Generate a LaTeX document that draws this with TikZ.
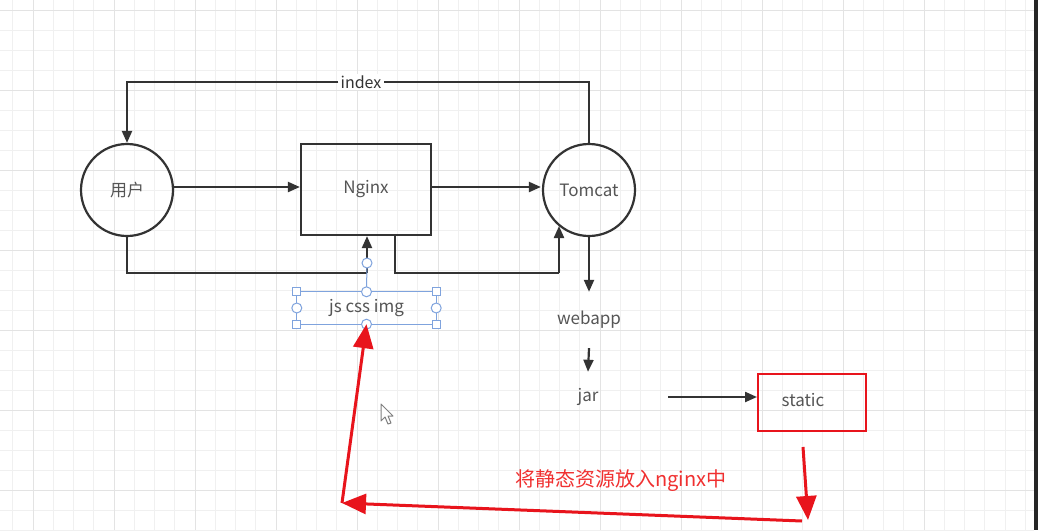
\documentclass[tikz,border=0pt]{standalone}
\usepackage{fontspec}
\setmainfont{Noto Sans CJK SC}
\usetikzlibrary{arrows.meta,calc}
\definecolor{gridminor}{HTML}{F0F0F0}
\definecolor{gridmajor}{HTML}{E3E3E3}
\definecolor{ink}{HTML}{333333}
\definecolor{txt}{HTML}{555555}
\definecolor{redline}{HTML}{E8141C}
\definecolor{redtxt}{HTML}{F03030}
\definecolor{selblue}{HTML}{7FA3DD}
\tikzset{
  conn/.style={draw=ink,line width=2.2pt,-{Triangle[length=12pt,width=10pt]}},
  plain/.style={draw=ink,line width=2.2pt},
  redarrow/.style={draw=redline,line width=3pt,-{Triangle[length=24pt,width=20pt]}},
  circnode/.style={circle,draw=ink,line width=2.2pt,minimum size=92pt,inner sep=0pt,text=txt,font=\fontsize{17}{19}\selectfont},
  boxnode/.style={rectangle,draw=ink,line width=2.2pt,minimum width=130pt,minimum height=91pt,text=txt,font=\fontsize{17}{19}\selectfont},
  plaintext/.style={text=txt,font=\fontsize{17}{19}\selectfont,inner sep=0pt},
  handlesq/.style={rectangle,draw=selblue,fill=white,line width=1pt,minimum size=8pt,inner sep=0pt},
  handlec/.style={circle,draw=selblue,fill=white,line width=1pt,minimum size=10pt,inner sep=0pt}
}
\begin{document}
\begin{tikzpicture}[x=1pt,y=-1pt]
\useasboundingbox (0,0) rectangle (1038,530);
\fill[white] (0,0) rectangle (1038,530);
% grid
\foreach \k in {0,...,50} {
  \pgfmathsetmacro{\gx}{12.75+20.25*\k}
  \ifdim\gx pt<1034pt
    \draw[gridminor,line width=1pt] (\gx,0) -- (\gx,530);
  \fi
}
\foreach \k in {0,...,26} {
  \draw[gridminor,line width=1pt] (0,{10+20*\k}) -- (1034,{10+20*\k});
}
\foreach \k in {0,...,11} {
  \pgfmathsetmacro{\gx}{33+81*\k}
  \draw[gridmajor,line width=1pt] (\gx,0) -- (\gx,530);
}
\foreach \k in {0,...,6} {
  \draw[gridmajor,line width=1pt] (0,{10+80*\k}) -- (1034,{10+80*\k});
}
\fill[black!85] (1034,0) rectangle (1038,530);

% main nodes
\node[circnode] (user) at (127,190) {用户};
\node[boxnode] (nginx) at (366,189.5) {Nginx};
\node[circnode] (tomcat) at (589,190) {Tomcat};
\node[plaintext,minimum height=56pt] (webapp) at (589,320) {webapp};
\node[plaintext,minimum height=50pt,minimum width=160pt] (jar) at (588,397) {jar};
\node[rectangle,draw=redline,line width=2pt,minimum width=108pt,minimum height=57pt,text=txt,font=\fontsize{17}{19}\selectfont] (static) at (812,402.5) {\raisebox{5.5pt}{static}\rule{18pt}{0pt}};
\node[plaintext,minimum width=139pt,minimum height=32pt] (js) at (366.5,308) {js css img};

% index loop
\node[text=ink,fill=white,inner sep=2pt,font=\fontsize{16}{18}\selectfont] (idx) at (361,82) {index};
\draw[plain] (tomcat.north) |- (idx.east);
\draw[conn] (idx.west) -| (user.north);

% horizontal arrows
\draw[conn] (user.east |- 0,187) -- (nginx.west |- 0,187);
\draw[conn] (nginx.east |- 0,187) -- ($(tomcat.west |- 0,187)+(-1,0)$);

% bottom loops
\coordinate (j1) at (367,273);
\coordinate (n2) at (395,235);
\coordinate (j2) at (559,273);
\coordinate (t2) at (559,226);
\draw[plain] (user.south) |- (j1);
\draw[conn] (j1) -- (nginx.south -| j1);
\draw[plain] (n2) |- (j2);
\draw[conn] (j2) -- (t2);

% tomcat chain
\draw[conn] (tomcat.south) -- (webapp.north);
\draw[conn] (webapp.south) -- (jar.north);
\draw[conn] (jar.east) -- (static.west |- jar.east);

% selection box on js css img
\draw[selblue,line width=1pt] (js.north west) rectangle (js.south east);
\coordinate (hs) at (367,263);
\draw[selblue,line width=1pt] (js.north) -- (hs);
\node[handlec] (h0) at (hs) {};
\node[handlesq] (h1) at (js.north west) {};
\node[handlesq] (h2) at (js.north east) {};
\node[handlesq] (h3) at (js.south west) {};
\node[handlesq] (h4) at (js.south east) {};
\node[handlec] (h5) at (js.west) {};
\node[handlec] (h6) at (js.east) {};
\node[handlec] (h7) at (js.north) {};
\node[handlec] (h8) at (js.south) {};

% red arrows
\coordinate (r1) at (803,447);
\coordinate (r2) at (808,520);
\coordinate (r3) at (802,521);
\coordinate (r4) at (342,503);
\draw[redarrow] (r1) -- (r2);
\draw[redarrow] (r3) -- (r4);
\draw[redarrow] (r4) -- (js.south);
\node[text=redtxt,font=\fontsize{20}{22}\selectfont,inner sep=0pt] (note) at (621,481) {将静态资源放入nginx中};

% mouse cursor
\draw[gray,fill=white,line width=1pt,line join=round]
  (381,404) -- (381,421) -- (385,417) -- (388,424) -- (391,423) -- (388,416) -- (393,416) -- cycle;
\end{tikzpicture}
\end{document}
